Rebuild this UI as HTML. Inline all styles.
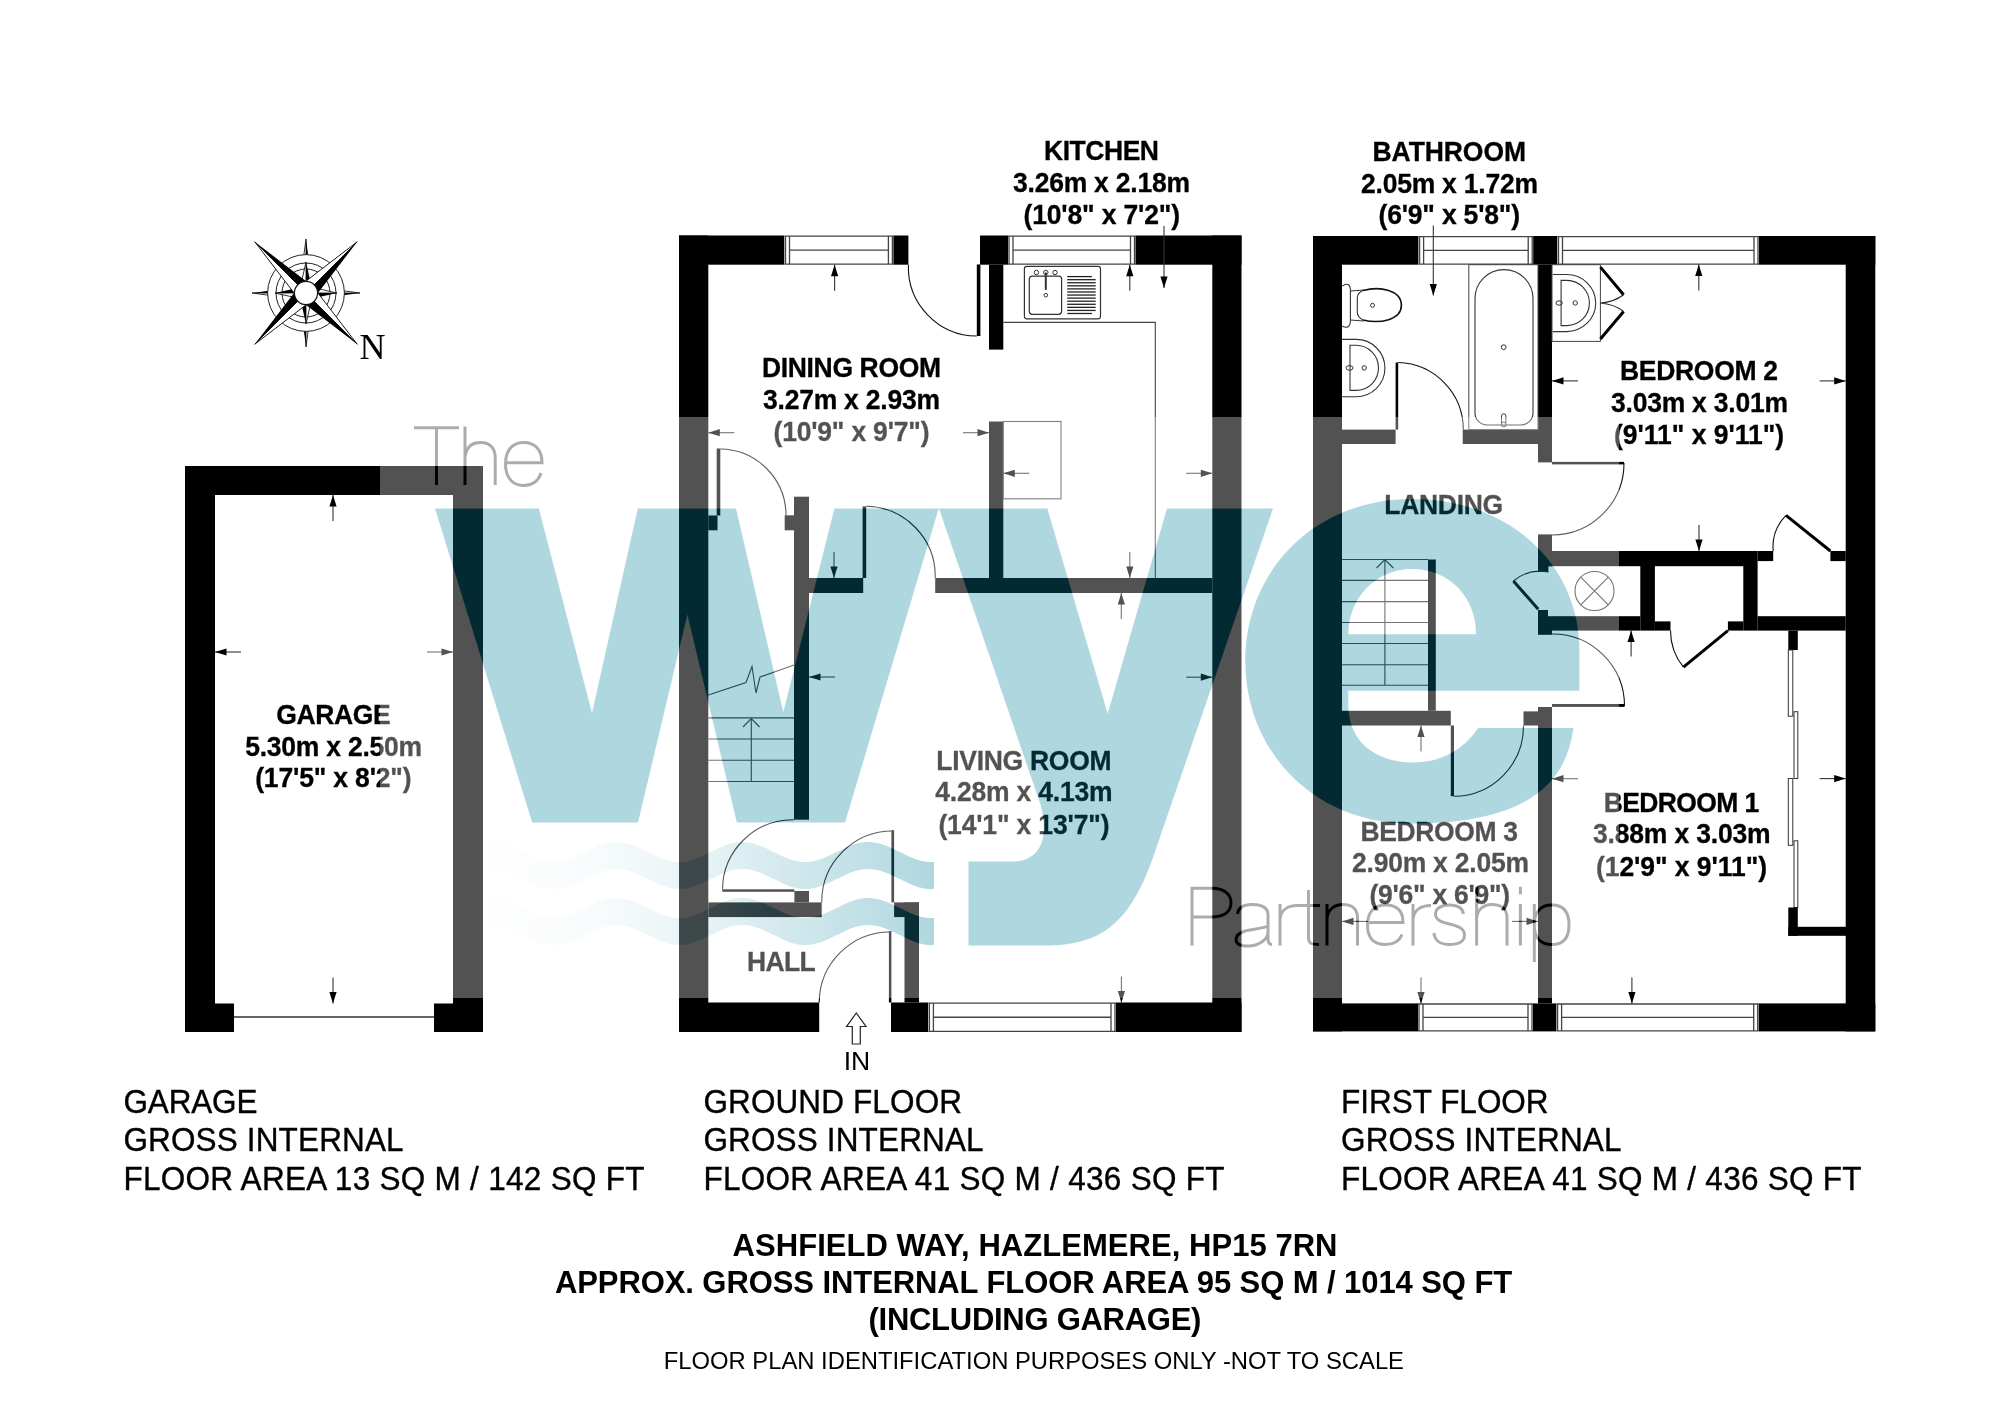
<!DOCTYPE html><html><head><meta charset="utf-8"><style>html,body{margin:0;padding:0;background:#fff;overflow:hidden}svg{display:block;will-change:transform}text{font-family:"Liberation Sans",sans-serif}</style></head><body>
<svg width="2000" height="1414" viewBox="0 0 2000 1414">
<rect width="2000" height="1414" fill="#fff"/>
<rect x="185.0" y="466.0" width="30.0" height="566.0" fill="#000"/>
<rect x="185.0" y="466.0" width="298.0" height="29.0" fill="#000"/>
<rect x="453.0" y="466.0" width="30.0" height="566.0" fill="#000"/>
<rect x="185.0" y="1003.5" width="49.0" height="28.5" fill="#000"/>
<rect x="434.0" y="1003.5" width="49.0" height="28.5" fill="#000"/>
<line x1="234" y1="1017" x2="434" y2="1017" stroke="#333" stroke-width="1.3"/>
<line x1="333" y1="495" x2="333" y2="521" stroke="#333" stroke-width="1.1"/>
<polygon points="333,495 329.4,506.5 336.6,506.5" fill="#000"/>
<line x1="333" y1="1003.5" x2="333" y2="977.5" stroke="#333" stroke-width="1.1"/>
<polygon points="333,1003.5 329.4,992.0 336.6,992.0" fill="#000"/>
<line x1="215" y1="652" x2="241" y2="652" stroke="#333" stroke-width="1.1"/>
<polygon points="215,652 226.5,648.4 226.5,655.6" fill="#000"/>
<line x1="453" y1="652" x2="427" y2="652" stroke="#333" stroke-width="1.1"/>
<polygon points="453,652 441.5,648.4 441.5,655.6" fill="#000"/>
<text transform="translate(276.20,724.1) scale(1,1.05)" x="0" y="0" font-size="26.5" font-weight="bold" textLength="114.40" lengthAdjust="spacing" fill="#000" stroke="#000" stroke-width="0.3">GARAGE</text>
<text transform="translate(245.20,755.6) scale(1,1.05)" x="0" y="0" font-size="26.5" font-weight="bold" textLength="176.99" lengthAdjust="spacing" fill="#000" stroke="#000" stroke-width="0.3">5.30m x 2.50m</text>
<text transform="translate(255.20,787.1) scale(1,1.05)" x="0" y="0" font-size="26.5" font-weight="bold" textLength="156.41" lengthAdjust="spacing" fill="#000" stroke="#000" stroke-width="0.3">(17'5&quot; x 8'2&quot;)</text>
<rect x="679.0" y="235.5" width="105.5" height="29.2" fill="#000"/>
<rect x="784.5" y="235.5" width="108.9" height="29.2" fill="#fff"/>
<path d="M784.5,236.1H893.4M784.5,264.09999999999997H893.4M789.5,250.1H888.4M785.5,235.5V264.7M789.5,235.5V264.7M892.4,235.5V264.7M888.4,235.5V264.7" stroke="#444" stroke-width="1.3" fill="none"/>
<rect x="893.4" y="235.5" width="15.0" height="29.2" fill="#000"/>
<rect x="980.0" y="235.5" width="28.0" height="29.2" fill="#000"/>
<rect x="1008.0" y="235.5" width="127.5" height="29.2" fill="#fff"/>
<path d="M1008,236.1H1135.5M1008,264.09999999999997H1135.5M1013,250.1H1130.5M1009,235.5V264.7M1013,235.5V264.7M1134.5,235.5V264.7M1130.5,235.5V264.7" stroke="#444" stroke-width="1.3" fill="none"/>
<rect x="1135.5" y="235.5" width="106.0" height="29.2" fill="#000"/>
<rect x="679.0" y="235.5" width="29.3" height="796.5" fill="#000"/>
<rect x="1212.3" y="235.5" width="29.2" height="796.5" fill="#000"/>
<rect x="679.0" y="1002.5" width="140.2" height="29.5" fill="#000"/>
<rect x="891.0" y="1002.5" width="37.4" height="29.5" fill="#000"/>
<rect x="928.4" y="1002.5" width="187.6" height="29.5" fill="#fff"/>
<path d="M928.4,1003.1H1116M928.4,1031.4H1116M933.4,1017.25H1111M929.4,1002.5V1032M933.4,1002.5V1032M1115,1002.5V1032M1111,1002.5V1032" stroke="#444" stroke-width="1.3" fill="none"/>
<rect x="1116.0" y="1002.5" width="125.5" height="29.5" fill="#000"/>
<rect x="989.0" y="264.7" width="14.3" height="84.9" fill="#000"/>
<rect x="976.8" y="264.5" width="3.6" height="71.5" fill="#000"/>
<path d="M908.4,264.7A69,69 0 0 0 976.8,336" fill="none" stroke="#111" stroke-width="1.1"/>
<rect x="989.0" y="421.5" width="14.3" height="171.5" fill="#000"/>
<rect x="935.2" y="578.0" width="277.1" height="15.0" fill="#000"/>
<rect x="809.0" y="578.0" width="54.2" height="15.0" fill="#000"/>
<rect x="794.0" y="496.7" width="15.0" height="323.0" fill="#000"/>
<rect x="784.7" y="515.3" width="9.3" height="15.0" fill="#000"/>
<rect x="708.3" y="515.5" width="9.2" height="14.8" fill="#000"/>
<rect x="716.7" y="448.5" width="3.6" height="67.0" fill="#000"/>
<path d="M720.3,449A66.5,66.5 0 0 1 786,515.5" fill="none" stroke="#111" stroke-width="1.1"/>
<rect x="862.6" y="506.3" width="3.6" height="71.7" fill="#000"/>
<path d="M866.2,506.3A70,70 0 0 1 935.2,578" fill="none" stroke="#111" stroke-width="1.1"/>
<rect x="1024.4" y="266.4" width="76.1" height="52.4" rx="2.5" fill="none" stroke="#333" stroke-width="1.2"/>
<rect x="1029.3" y="276.1" width="32.3" height="38.2" rx="3" fill="none" stroke="#333" stroke-width="1.2"/>
<circle cx="1036.4" cy="272.5" r="2.2" fill="none" stroke="#333" stroke-width="1"/>
<circle cx="1045.8" cy="272.5" r="2.2" fill="none" stroke="#333" stroke-width="1"/>
<circle cx="1055" cy="272.5" r="2.2" fill="none" stroke="#333" stroke-width="1"/>
<path d="M1045.8,272.5V289.8" stroke="#333" stroke-width="2"/>
<circle cx="1045.8" cy="295.2" r="1.8" fill="none" stroke="#333" stroke-width="1"/>
<line x1="1067.2" y1="276.60" x2="1091.9" y2="276.60" stroke="#222" stroke-width="1.3"/>
<line x1="1067.2" y1="279.68" x2="1095.7" y2="279.68" stroke="#222" stroke-width="1.3"/>
<line x1="1067.2" y1="282.75" x2="1095.7" y2="282.75" stroke="#222" stroke-width="1.3"/>
<line x1="1067.2" y1="285.83" x2="1095.7" y2="285.83" stroke="#222" stroke-width="1.3"/>
<line x1="1067.2" y1="288.90" x2="1095.7" y2="288.90" stroke="#222" stroke-width="1.3"/>
<line x1="1067.2" y1="291.98" x2="1095.7" y2="291.98" stroke="#222" stroke-width="1.3"/>
<line x1="1067.2" y1="295.05" x2="1095.7" y2="295.05" stroke="#222" stroke-width="1.3"/>
<line x1="1067.2" y1="298.12" x2="1095.7" y2="298.12" stroke="#222" stroke-width="1.3"/>
<line x1="1067.2" y1="301.20" x2="1095.7" y2="301.20" stroke="#222" stroke-width="1.3"/>
<line x1="1067.2" y1="304.28" x2="1095.7" y2="304.28" stroke="#222" stroke-width="1.3"/>
<line x1="1067.2" y1="307.35" x2="1095.7" y2="307.35" stroke="#222" stroke-width="1.3"/>
<line x1="1067.2" y1="310.43" x2="1095.7" y2="310.43" stroke="#222" stroke-width="1.3"/>
<line x1="1067.2" y1="313.50" x2="1091.9" y2="313.50" stroke="#222" stroke-width="1.3"/>
<path d="M1003.3,322.4H1155.3V578" fill="none" stroke="#444" stroke-width="1.1"/>
<rect x="1003.3" y="421.5" width="57.7" height="77.3" fill="none" stroke="#444" stroke-width="1.1"/>
<line x1="834.6" y1="264.7" x2="834.6" y2="290.7" stroke="#333" stroke-width="1.1"/>
<polygon points="834.6,264.7 831.0,276.2 838.2,276.2" fill="#000"/>
<line x1="1129.8" y1="264.7" x2="1129.8" y2="290.7" stroke="#333" stroke-width="1.1"/>
<polygon points="1129.8,264.7 1126.2,276.2 1133.3999999999999,276.2" fill="#000"/>
<line x1="1164" y1="226" x2="1164" y2="288" stroke="#333" stroke-width="1.1"/>
<polygon points="1164,288 1160.4,276.5 1167.6,276.5" fill="#000"/>
<line x1="708.3" y1="432.7" x2="734.3" y2="432.7" stroke="#333" stroke-width="1.1"/>
<polygon points="708.3,432.7 719.8,429.09999999999997 719.8,436.3" fill="#000"/>
<line x1="989" y1="432.7" x2="963" y2="432.7" stroke="#333" stroke-width="1.1"/>
<polygon points="989,432.7 977.5,429.09999999999997 977.5,436.3" fill="#000"/>
<line x1="1003.3" y1="473.3" x2="1029.3" y2="473.3" stroke="#333" stroke-width="1.1"/>
<polygon points="1003.3,473.3 1014.8,469.7 1014.8,476.90000000000003" fill="#000"/>
<line x1="1212.3" y1="473.3" x2="1186.3" y2="473.3" stroke="#333" stroke-width="1.1"/>
<polygon points="1212.3,473.3 1200.8,469.7 1200.8,476.90000000000003" fill="#000"/>
<line x1="1129.8" y1="578" x2="1129.8" y2="552" stroke="#333" stroke-width="1.1"/>
<polygon points="1129.8,578 1126.2,566.5 1133.3999999999999,566.5" fill="#000"/>
<line x1="1121.3" y1="593" x2="1121.3" y2="619" stroke="#333" stroke-width="1.1"/>
<polygon points="1121.3,593 1117.7,604.5 1124.8999999999999,604.5" fill="#000"/>
<line x1="834" y1="578" x2="834" y2="552" stroke="#333" stroke-width="1.1"/>
<polygon points="834,578 830.4,566.5 837.6,566.5" fill="#000"/>
<line x1="809" y1="677" x2="835" y2="677" stroke="#333" stroke-width="1.1"/>
<polygon points="809,677 820.5,673.4 820.5,680.6" fill="#000"/>
<line x1="1212.3" y1="677.2" x2="1186.3" y2="677.2" stroke="#333" stroke-width="1.1"/>
<polygon points="1212.3,677.2 1200.8,673.6 1200.8,680.8000000000001" fill="#000"/>
<line x1="1121.4" y1="1002.5" x2="1121.4" y2="976.5" stroke="#333" stroke-width="1.1"/>
<polygon points="1121.4,1002.5 1117.8000000000002,991.0 1125.0,991.0" fill="#000"/>
<line x1="708.3" y1="717.9" x2="794" y2="717.9" stroke="#333" stroke-width="1.1"/>
<line x1="708.3" y1="739" x2="794" y2="739" stroke="#333" stroke-width="1.1"/>
<line x1="708.3" y1="760.3" x2="794" y2="760.3" stroke="#333" stroke-width="1.1"/>
<line x1="708.3" y1="781.5" x2="794" y2="781.5" stroke="#333" stroke-width="1.1"/>
<path d="M751.3,781.5V718.6M743,727L751.3,718.6L759.6,727" fill="none" stroke="#333" stroke-width="1.1"/>
<path d="M708.3,695L746,682.5L752,666.5L756,693L760,677L794,665" fill="none" stroke="#333" stroke-width="1.1"/>
<rect x="708.3" y="902.4" width="113.4" height="14.7" fill="#000"/>
<rect x="794.4" y="891.0" width="14.6" height="11.4" fill="#000"/>
<rect x="722.3" y="889.3" width="72.1" height="2.5" fill="#000"/>
<path d="M794,819.7A70.5,70.5 0 0 0 722.5,889.5" fill="none" stroke="#111" stroke-width="1.1"/>
<rect x="891.4" y="830.2" width="2.7" height="72.2" fill="#000"/>
<path d="M821.7,902.4A71,71 0 0 1 892.8,831" fill="none" stroke="#111" stroke-width="1.1"/>
<rect x="894.1" y="902.4" width="24.9" height="14.7" fill="#000"/>
<rect x="904.5" y="902.4" width="14.5" height="100.1" fill="#000"/>
<rect x="888.9" y="931.0" width="2.5" height="71.5" fill="#000"/>
<path d="M819.2,1002.5A71,71 0 0 1 890,932" fill="none" stroke="#111" stroke-width="1.1"/>
<path d="M856.3,1013L866,1026.5H860.3V1044H852.3V1026.5H846.6Z" fill="#fff" stroke="#222" stroke-width="1.2"/>
<text x="857" y="1069.6" font-size="26.5" text-anchor="middle" fill="#000">IN</text>
<text transform="translate(747.00,971.4) scale(1,1.05)" x="0" y="0" font-size="26.5" font-weight="bold" textLength="68.70" lengthAdjust="spacing" fill="#000" stroke="#000" stroke-width="0.3">HALL</text>
<text transform="translate(762.00,376.8) scale(1,1.05)" x="0" y="0" font-size="26.5" font-weight="bold" textLength="178.99" lengthAdjust="spacing" fill="#000" stroke="#000" stroke-width="0.3">DINING ROOM</text>
<text transform="translate(763.00,408.5) scale(1,1.05)" x="0" y="0" font-size="26.5" font-weight="bold" textLength="176.99" lengthAdjust="spacing" fill="#000" stroke="#000" stroke-width="0.3">3.27m x 2.93m</text>
<text transform="translate(773.50,440.5) scale(1,1.05)" x="0" y="0" font-size="26.5" font-weight="bold" textLength="156.01" lengthAdjust="spacing" fill="#000" stroke="#000" stroke-width="0.3">(10'9&quot; x 9'7&quot;)</text>
<text transform="translate(1044.00,159.8) scale(1,1.05)" x="0" y="0" font-size="26.5" font-weight="bold" textLength="115.01" lengthAdjust="spacing" fill="#000" stroke="#000" stroke-width="0.3">KITCHEN</text>
<text transform="translate(1013.00,191.5) scale(1,1.05)" x="0" y="0" font-size="26.5" font-weight="bold" textLength="176.99" lengthAdjust="spacing" fill="#000" stroke="#000" stroke-width="0.3">3.26m x 2.18m</text>
<text transform="translate(1023.50,224) scale(1,1.05)" x="0" y="0" font-size="26.5" font-weight="bold" textLength="156.51" lengthAdjust="spacing" fill="#000" stroke="#000" stroke-width="0.3">(10'8&quot; x 7'2&quot;)</text>
<text transform="translate(936.30,769.9) scale(1,1.05)" x="0" y="0" font-size="26.5" font-weight="bold" textLength="175.30" lengthAdjust="spacing" fill="#000" stroke="#000" stroke-width="0.3">LIVING ROOM</text>
<text transform="translate(935.20,801.4) scale(1,1.05)" x="0" y="0" font-size="26.5" font-weight="bold" textLength="177.49" lengthAdjust="spacing" fill="#000" stroke="#000" stroke-width="0.3">4.28m x 4.13m</text>
<text transform="translate(938.40,833.5) scale(1,1.05)" x="0" y="0" font-size="26.5" font-weight="bold" textLength="171.09" lengthAdjust="spacing" fill="#000" stroke="#000" stroke-width="0.3">(14'1&quot; x 13'7&quot;)</text>
<rect x="1313.0" y="236.0" width="105.6" height="28.7" fill="#000"/>
<rect x="1418.6" y="236.0" width="114.6" height="28.7" fill="#fff"/>
<path d="M1418.6,236.6H1533.2M1418.6,264.09999999999997H1533.2M1423.6,250.35H1528.2M1419.6,236V264.7M1423.6,236V264.7M1532.2,236V264.7M1528.2,236V264.7" stroke="#444" stroke-width="1.3" fill="none"/>
<rect x="1533.2" y="236.0" width="24.3" height="28.7" fill="#000"/>
<rect x="1557.5" y="236.0" width="201.5" height="28.7" fill="#fff"/>
<path d="M1557.5,236.6H1759M1557.5,264.09999999999997H1759M1562.5,250.35H1754M1558.5,236V264.7M1562.5,236V264.7M1758,236V264.7M1754,236V264.7" stroke="#444" stroke-width="1.3" fill="none"/>
<rect x="1759.0" y="236.0" width="116.3" height="28.7" fill="#000"/>
<rect x="1313.0" y="236.0" width="29.0" height="795.4" fill="#000"/>
<rect x="1845.7" y="236.0" width="29.6" height="795.4" fill="#000"/>
<rect x="1313.0" y="1003.4" width="105.0" height="28.0" fill="#000"/>
<rect x="1418.0" y="1003.4" width="115.0" height="28.0" fill="#fff"/>
<path d="M1418,1004.0H1533M1418,1030.8000000000002H1533M1423,1017.4000000000001H1528M1419,1003.4V1031.4M1423,1003.4V1031.4M1532,1003.4V1031.4M1528,1003.4V1031.4" stroke="#444" stroke-width="1.3" fill="none"/>
<rect x="1533.0" y="1003.4" width="23.6" height="28.0" fill="#000"/>
<rect x="1556.6" y="1003.4" width="202.1" height="28.0" fill="#fff"/>
<path d="M1556.6,1004.0H1758.7M1556.6,1030.8000000000002H1758.7M1561.6,1017.4000000000001H1753.7M1557.6,1003.4V1031.4M1561.6,1003.4V1031.4M1757.7,1003.4V1031.4M1753.7,1003.4V1031.4" stroke="#444" stroke-width="1.3" fill="none"/>
<rect x="1758.7" y="1003.4" width="116.6" height="28.0" fill="#000"/>
<rect x="1538.0" y="264.7" width="14.0" height="197.7" fill="#000"/>
<rect x="1342.0" y="429.6" width="53.6" height="14.4" fill="#000"/>
<rect x="1462.7" y="429.6" width="75.3" height="14.4" fill="#000"/>
<rect x="1395.6" y="362.5" width="2.6" height="67.1" fill="#000"/>
<path d="M1398.2,362.5A67,67 0 0 1 1463.3,429.6" fill="none" stroke="#111" stroke-width="1.1"/>
<rect x="1468.8" y="264.7" width="69.2" height="164.9" fill="none" stroke="#444" stroke-width="1"/>
<path d="M1475,298.6A29,29 0 0 1 1533,298.6V413A12,12 0 0 1 1521,425H1487A12,12 0 0 1 1475,413Z" fill="none" stroke="#333" stroke-width="1.1"/>
<circle cx="1503.7" cy="347.2" r="2.4" fill="none" stroke="#333" stroke-width="1"/>
<path d="M1501.5,423V416A2.2,2.2 0 0 1 1505.9,416V423" fill="none" stroke="#333" stroke-width="1"/>
<circle cx="1503.7" cy="424.5" r="2.4" fill="none" stroke="#333" stroke-width="1"/>
<path d="M1342,286Q1350,281 1350.4,290V321Q1350,330 1342,326" fill="none" stroke="#333" stroke-width="1.1"/>
<path d="M1350.4,291L1363.7,290M1350.4,320L1363.7,321" fill="none" stroke="#333" stroke-width="1"/>
<path d="M1363,290.5C1380,286 1401.4,290 1401.4,305.3C1401.4,320 1380,324 1363,320" fill="none" stroke="#111" stroke-width="1.6"/>
<path d="M1363,290.5Q1357.3,293 1357.3,298V312Q1357.3,317 1363,320" fill="none" stroke="#333" stroke-width="1.1"/>
<circle cx="1372.5" cy="305.3" r="2" fill="none" stroke="#333" stroke-width="1"/>
<path d="M1342,339.4H1356A28.7,28.7 0 0 1 1384.9,368.1A28.7,28.7 0 0 1 1356,396.8H1342" fill="none" stroke="#333" stroke-width="1.1"/>
<path d="M1350,345.3H1356A22.5,22.5 0 0 1 1378.5,367.8A22.5,22.5 0 0 1 1356,390.4H1350Z" fill="none" stroke="#333" stroke-width="1.1"/>
<ellipse cx="1349.5" cy="367.9" rx="3.5" ry="2.3" fill="none" stroke="#333" stroke-width="1"/>
<circle cx="1364.2" cy="367.9" r="2.2" fill="none" stroke="#333" stroke-width="1"/>
<rect x="1552" y="264.7" width="48.4" height="76.7" fill="none" stroke="#444" stroke-width="1"/>
<path d="M1552.7,274.5H1566.5A29.2,28.6 0 0 1 1595.7,303A29.2,28.6 0 0 1 1566.5,331.6H1552.7" fill="none" stroke="#333" stroke-width="1.1"/>
<path d="M1561.1,280.4H1567A22.5,22.6 0 0 1 1589.4,303A22.5,22.6 0 0 1 1567,325.6H1561.1Z" fill="none" stroke="#333" stroke-width="1.1"/>
<ellipse cx="1559.1" cy="303" rx="3.2" ry="2.2" fill="none" stroke="#333" stroke-width="1"/>
<circle cx="1575.2" cy="303" r="2.2" fill="none" stroke="#333" stroke-width="1"/>
<path d="M1600.4,267.1L1623.6,294.7M1600.4,339L1623.6,311.5" stroke="#000" stroke-width="3"/>
<path d="M1623.6,294.7Q1614,302 1600.4,303Q1614,304 1623.6,311.5" fill="none" stroke="#222" stroke-width="1.1"/>
<rect x="1552.0" y="461.9" width="72.0" height="2.5" fill="#000"/>
<path d="M1624,463A72,72 0 0 1 1552,535" fill="none" stroke="#111" stroke-width="1.1"/>
<rect x="1538.0" y="534.4" width="14.0" height="31.8" fill="#000"/>
<rect x="1538.0" y="551.0" width="219.6" height="15.2" fill="#000"/>
<rect x="1757.6" y="551.0" width="15.6" height="10.1" fill="#000"/>
<rect x="1830.4" y="551.0" width="15.3" height="10.1" fill="#000"/>
<path d="M1786,515.3L1830.4,551" stroke="#000" stroke-width="3"/>
<path d="M1786,515.3A45,45 0 0 0 1773.2,551" fill="none" stroke="#111" stroke-width="1.1"/>
<rect x="1640.3" y="566.0" width="14.6" height="64.6" fill="#000"/>
<rect x="1743.3" y="566.0" width="14.3" height="64.6" fill="#000"/>
<rect x="1548.0" y="616.2" width="92.3" height="14.4" fill="#000"/>
<rect x="1654.9" y="621.4" width="15.6" height="9.2" fill="#000"/>
<rect x="1727.9" y="621.4" width="15.4" height="9.2" fill="#000"/>
<rect x="1757.6" y="616.2" width="88.1" height="14.4" fill="#000"/>
<path d="M1727.9,630.6L1683.4,667.2" stroke="#000" stroke-width="3"/>
<path d="M1670.5,630.6A58,58 0 0 0 1683.4,667.2" fill="none" stroke="#111" stroke-width="1.1"/>
<rect x="1538.0" y="566.0" width="10.4" height="6.0" fill="#000"/>
<path d="M1548.4,572A42,42 0 0 0 1513.4,581" fill="none" stroke="#111" stroke-width="1.1"/>
<path d="M1513.4,581L1538.2,609.3" stroke="#000" stroke-width="3"/>
<rect x="1538.0" y="610.0" width="10.0" height="7.0" fill="#000"/>
<rect x="1538.0" y="617.0" width="14.0" height="17.8" fill="#000"/>
<circle cx="1594.5" cy="591" r="19.5" fill="none" stroke="#333" stroke-width="1.1"/>
<path d="M1580.7,577.2L1608.3,604.8M1608.3,577.2L1580.7,604.8" stroke="#333" stroke-width="1.1"/>
<line x1="1342" y1="559.5" x2="1428" y2="559.5" stroke="#333" stroke-width="1.1"/>
<line x1="1342" y1="580.4" x2="1428" y2="580.4" stroke="#333" stroke-width="1.1"/>
<line x1="1342" y1="601.6" x2="1428" y2="601.6" stroke="#333" stroke-width="1.1"/>
<line x1="1342" y1="622.5" x2="1428" y2="622.5" stroke="#333" stroke-width="1.1"/>
<line x1="1342" y1="643.5" x2="1428" y2="643.5" stroke="#333" stroke-width="1.1"/>
<line x1="1342" y1="664.7" x2="1428" y2="664.7" stroke="#333" stroke-width="1.1"/>
<line x1="1342" y1="685.3" x2="1428" y2="685.3" stroke="#333" stroke-width="1.1"/>
<rect x="1428.0" y="559.5" width="7.8" height="151.3" fill="#000"/>
<path d="M1384.9,685.3V559.5M1376.5,568L1384.9,559.5L1393.3,568" fill="none" stroke="#333" stroke-width="1.1"/>
<rect x="1342.0" y="710.8" width="108.8" height="14.7" fill="#000"/>
<rect x="1450.8" y="725.5" width="3.2" height="70.7" fill="#000"/>
<path d="M1454,796.2A70,70 0 0 0 1523.5,725.5" fill="none" stroke="#111" stroke-width="1.1"/>
<rect x="1523.5" y="711.4" width="28.5" height="14.1" fill="#000"/>
<rect x="1538.0" y="707.0" width="14.0" height="296.4" fill="#000"/>
<rect x="1552.0" y="704.0" width="72.5" height="2.9" fill="#000"/>
<path d="M1552,634A72,72 0 0 1 1624.5,706" fill="none" stroke="#111" stroke-width="1.1"/>
<rect x="1788.3" y="630.6" width="9.5" height="19.4" fill="#000"/>
<rect x="1788.3" y="650" width="4.5" height="66.2" fill="#fff" stroke="#333" stroke-width="1"/>
<rect x="1794" y="711.7" width="3.8" height="66.8" fill="#fff" stroke="#333" stroke-width="1"/>
<rect x="1788.3" y="778.5" width="4.5" height="66.8" fill="#fff" stroke="#333" stroke-width="1"/>
<rect x="1794" y="840.8" width="3.8" height="66.7" fill="#fff" stroke="#333" stroke-width="1"/>
<rect x="1788.3" y="907.5" width="9.5" height="28.3" fill="#000"/>
<rect x="1788.3" y="926.8" width="57.7" height="9.0" fill="#000"/>
<line x1="1433.3" y1="295.4" x2="1433.3" y2="225.39999999999998" stroke="#333" stroke-width="1.1"/>
<polygon points="1433.3,295.4 1429.7,283.9 1436.8999999999999,283.9" fill="#000"/>
<line x1="1698.8" y1="264.5" x2="1698.8" y2="290.5" stroke="#333" stroke-width="1.1"/>
<polygon points="1698.8,264.5 1695.2,276.0 1702.3999999999999,276.0" fill="#000"/>
<line x1="1552" y1="380.9" x2="1578" y2="380.9" stroke="#333" stroke-width="1.1"/>
<polygon points="1552,380.9 1563.5,377.29999999999995 1563.5,384.5" fill="#000"/>
<line x1="1845.7" y1="380.9" x2="1819.7" y2="380.9" stroke="#333" stroke-width="1.1"/>
<polygon points="1845.7,380.9 1834.2,377.29999999999995 1834.2,384.5" fill="#000"/>
<line x1="1699" y1="551" x2="1699" y2="525" stroke="#333" stroke-width="1.1"/>
<polygon points="1699,551 1695.4,539.5 1702.6,539.5" fill="#000"/>
<line x1="1631.1" y1="630.6" x2="1631.1" y2="656.6" stroke="#333" stroke-width="1.1"/>
<polygon points="1631.1,630.6 1627.5,642.1 1634.6999999999998,642.1" fill="#000"/>
<line x1="1421" y1="725.5" x2="1421" y2="751.5" stroke="#333" stroke-width="1.1"/>
<polygon points="1421,725.5 1417.4,737.0 1424.6,737.0" fill="#000"/>
<line x1="1552" y1="778.7" x2="1578" y2="778.7" stroke="#333" stroke-width="1.1"/>
<polygon points="1552,778.7 1563.5,775.1 1563.5,782.3000000000001" fill="#000"/>
<line x1="1845.7" y1="778.6" x2="1819.7" y2="778.6" stroke="#333" stroke-width="1.1"/>
<polygon points="1845.7,778.6 1834.2,775.0 1834.2,782.2" fill="#000"/>
<line x1="1342" y1="921.4" x2="1368" y2="921.4" stroke="#333" stroke-width="1.1"/>
<polygon points="1342,921.4 1353.5,917.8 1353.5,925.0" fill="#000"/>
<line x1="1538" y1="921.4" x2="1512" y2="921.4" stroke="#333" stroke-width="1.1"/>
<polygon points="1538,921.4 1526.5,917.8 1526.5,925.0" fill="#000"/>
<line x1="1421" y1="1003.4" x2="1421" y2="977.4" stroke="#333" stroke-width="1.1"/>
<polygon points="1421,1003.4 1417.4,991.9 1424.6,991.9" fill="#000"/>
<line x1="1631.9" y1="1003.4" x2="1631.9" y2="977.4" stroke="#333" stroke-width="1.1"/>
<polygon points="1631.9,1003.4 1628.3000000000002,991.9 1635.5,991.9" fill="#000"/>
<text transform="translate(1372.50,160.8) scale(1,1.05)" x="0" y="0" font-size="26.5" font-weight="bold" textLength="153.50" lengthAdjust="spacing" fill="#000" stroke="#000" stroke-width="0.3">BATHROOM</text>
<text transform="translate(1361.00,192.5) scale(1,1.05)" x="0" y="0" font-size="26.5" font-weight="bold" textLength="176.99" lengthAdjust="spacing" fill="#000" stroke="#000" stroke-width="0.3">2.05m x 1.72m</text>
<text transform="translate(1378.50,224) scale(1,1.05)" x="0" y="0" font-size="26.5" font-weight="bold" textLength="141.51" lengthAdjust="spacing" fill="#000" stroke="#000" stroke-width="0.3">(6'9&quot; x 5'8&quot;)</text>
<text transform="translate(1620.00,379.8) scale(1,1.05)" x="0" y="0" font-size="26.5" font-weight="bold" textLength="158.00" lengthAdjust="spacing" fill="#000" stroke="#000" stroke-width="0.3">BEDROOM 2</text>
<text transform="translate(1611.00,411.5) scale(1,1.05)" x="0" y="0" font-size="26.5" font-weight="bold" textLength="176.99" lengthAdjust="spacing" fill="#000" stroke="#000" stroke-width="0.3">3.03m x 3.01m</text>
<text transform="translate(1614.00,443.5) scale(1,1.05)" x="0" y="0" font-size="26.5" font-weight="bold" textLength="170.01" lengthAdjust="spacing" fill="#000" stroke="#000" stroke-width="0.3">(9'11&quot; x 9'11&quot;)</text>
<text transform="translate(1384.30,514.2) scale(1,1.05)" x="0" y="0" font-size="26.5" font-weight="bold" textLength="118.80" lengthAdjust="spacing" fill="#000" stroke="#000" stroke-width="0.3">LANDING</text>
<text transform="translate(1360.50,840.5) scale(1,1.05)" x="0" y="0" font-size="26.5" font-weight="bold" textLength="157.50" lengthAdjust="spacing" fill="#000" stroke="#000" stroke-width="0.3">BEDROOM 3</text>
<text transform="translate(1352.00,872) scale(1,1.05)" x="0" y="0" font-size="26.5" font-weight="bold" textLength="176.99" lengthAdjust="spacing" fill="#000" stroke="#000" stroke-width="0.3">2.90m x 2.05m</text>
<text transform="translate(1369.50,903.5) scale(1,1.05)" x="0" y="0" font-size="26.5" font-weight="bold" textLength="140.51" lengthAdjust="spacing" fill="#000" stroke="#000" stroke-width="0.3">(9'6&quot; x 6'9&quot;)</text>
<text transform="translate(1603.80,811.6) scale(1,1.05)" x="0" y="0" font-size="26.5" font-weight="bold" textLength="155.40" lengthAdjust="spacing" fill="#000" stroke="#000" stroke-width="0.3">BEDROOM 1</text>
<text transform="translate(1593.00,843.4) scale(1,1.05)" x="0" y="0" font-size="26.5" font-weight="bold" textLength="177.59" lengthAdjust="spacing" fill="#000" stroke="#000" stroke-width="0.3">3.88m x 3.03m</text>
<text transform="translate(1596.00,875.8) scale(1,1.05)" x="0" y="0" font-size="26.5" font-weight="bold" textLength="171.01" lengthAdjust="spacing" fill="#000" stroke="#000" stroke-width="0.3">(12'9&quot; x 9'11&quot;)</text>
<g transform="translate(306,293)">
<polygon points="0.00,-30.00 3.20,-30.00 0.00,-54.00" fill="#000"/>
<polygon points="0.00,-30.00 -3.20,-30.00 0.00,-54.00" fill="#fff" stroke="#000" stroke-width="0.8" stroke-linejoin="round"/>
<polygon points="30.00,0.00 30.00,3.20 54.00,0.00" fill="#000"/>
<polygon points="30.00,0.00 30.00,-3.20 54.00,0.00" fill="#fff" stroke="#000" stroke-width="0.8" stroke-linejoin="round"/>
<polygon points="0.00,30.00 -3.20,30.00 0.00,54.00" fill="#000"/>
<polygon points="0.00,30.00 3.20,30.00 0.00,54.00" fill="#fff" stroke="#000" stroke-width="0.8" stroke-linejoin="round"/>
<polygon points="-30.00,0.00 -30.00,-3.20 -54.00,0.00" fill="#000"/>
<polygon points="-30.00,0.00 -30.00,3.20 -54.00,0.00" fill="#fff" stroke="#000" stroke-width="0.8" stroke-linejoin="round"/>
<circle r="38.4" fill="#fff" stroke="#222" stroke-width="1"/>
<circle r="30" fill="#fff" stroke="#222" stroke-width="1"/>
<circle r="24" fill="none" stroke="#222" stroke-width="1"/>
<polygon points="0.00,-0.00 7.00,0.00 0.00,-31.00" fill="#000"/>
<polygon points="0.00,-0.00 -7.00,-0.00 0.00,-31.00" fill="#fff" stroke="#000" stroke-width="0.8" stroke-linejoin="round"/>
<polygon points="0.00,0.00 0.00,7.00 31.00,0.00" fill="#000"/>
<polygon points="0.00,0.00 0.00,-7.00 31.00,0.00" fill="#fff" stroke="#000" stroke-width="0.8" stroke-linejoin="round"/>
<polygon points="0.00,0.00 -7.00,0.00 0.00,31.00" fill="#000"/>
<polygon points="0.00,0.00 7.00,-0.00 0.00,31.00" fill="#fff" stroke="#000" stroke-width="0.8" stroke-linejoin="round"/>
<polygon points="-0.00,0.00 -0.00,-7.00 -31.00,0.00" fill="#000"/>
<polygon points="-0.00,0.00 0.00,7.00 -31.00,0.00" fill="#fff" stroke="#000" stroke-width="0.8" stroke-linejoin="round"/>
<polygon points="0.00,-0.00 6.72,6.72 51.27,-51.27" fill="#000"/>
<polygon points="0.00,-0.00 -6.72,-6.72 51.27,-51.27" fill="#fff" stroke="#000" stroke-width="0.9" stroke-linejoin="round"/>
<polygon points="0.00,0.00 -6.72,6.72 51.27,51.27" fill="#000"/>
<polygon points="0.00,0.00 6.72,-6.72 51.27,51.27" fill="#fff" stroke="#000" stroke-width="0.9" stroke-linejoin="round"/>
<polygon points="-0.00,0.00 -6.72,-6.72 -51.27,51.27" fill="#000"/>
<polygon points="-0.00,0.00 6.72,6.72 -51.27,51.27" fill="#fff" stroke="#000" stroke-width="0.9" stroke-linejoin="round"/>
<polygon points="-0.00,-0.00 6.72,-6.72 -51.27,-51.27" fill="#000"/>
<polygon points="-0.00,-0.00 -6.72,6.72 -51.27,-51.27" fill="#fff" stroke="#000" stroke-width="0.9" stroke-linejoin="round"/>
<circle r="11.6" fill="#fff" stroke="#111" stroke-width="1.2"/>
</g>
<text x="372.5" y="359.2" font-family="Liberation Serif" font-size="36" text-anchor="middle" fill="#000" style="font-family:'Liberation Serif',serif">N</text>
<text transform="translate(123.40,1113) scale(1,1.06)" x="0" y="0" font-size="31.5" font-weight="normal" textLength="134.09" lengthAdjust="spacing" fill="#000" stroke="#000" stroke-width="0.35">GARAGE</text>
<text transform="translate(123.40,1151.4) scale(1,1.06)" x="0" y="0" font-size="31.5" font-weight="normal" textLength="280.20" lengthAdjust="spacing" fill="#000" stroke="#000" stroke-width="0.35">GROSS INTERNAL</text>
<text transform="translate(123.40,1190.4) scale(1,1.06)" x="0" y="0" font-size="31.5" font-weight="normal" textLength="521.11" lengthAdjust="spacing" fill="#000" stroke="#000" stroke-width="0.35">FLOOR AREA 13 SQ M / 142 SQ FT</text>
<text transform="translate(703.40,1113) scale(1,1.06)" x="0" y="0" font-size="31.5" font-weight="normal" textLength="258.60" lengthAdjust="spacing" fill="#000" stroke="#000" stroke-width="0.35">GROUND FLOOR</text>
<text transform="translate(703.40,1151.4) scale(1,1.06)" x="0" y="0" font-size="31.5" font-weight="normal" textLength="280.20" lengthAdjust="spacing" fill="#000" stroke="#000" stroke-width="0.35">GROSS INTERNAL</text>
<text transform="translate(703.40,1190.4) scale(1,1.06)" x="0" y="0" font-size="31.5" font-weight="normal" textLength="521.11" lengthAdjust="spacing" fill="#000" stroke="#000" stroke-width="0.35">FLOOR AREA 41 SQ M / 436 SQ FT</text>
<text transform="translate(1341.00,1113) scale(1,1.06)" x="0" y="0" font-size="31.5" font-weight="normal" textLength="207.61" lengthAdjust="spacing" fill="#000" stroke="#000" stroke-width="0.35">FIRST FLOOR</text>
<text transform="translate(1341.00,1151.4) scale(1,1.06)" x="0" y="0" font-size="31.5" font-weight="normal" textLength="280.50" lengthAdjust="spacing" fill="#000" stroke="#000" stroke-width="0.35">GROSS INTERNAL</text>
<text transform="translate(1341.00,1190.4) scale(1,1.06)" x="0" y="0" font-size="31.5" font-weight="normal" textLength="520.51" lengthAdjust="spacing" fill="#000" stroke="#000" stroke-width="0.35">FLOOR AREA 41 SQ M / 436 SQ FT</text>
<text transform="translate(732.60,1256) scale(1,1.0)" x="0" y="0" font-size="31" font-weight="bold" textLength="604.91" lengthAdjust="spacing" fill="#000">ASHFIELD WAY, HAZLEMERE, HP15 7RN</text>
<text transform="translate(554.90,1293) scale(1,1.0)" x="0" y="0" font-size="31" font-weight="bold" textLength="957.30" lengthAdjust="spacing" fill="#000">APPROX. GROSS INTERNAL FLOOR AREA 95 SQ M / 1014 SQ FT</text>
<text transform="translate(868.50,1330) scale(1,1.0)" x="0" y="0" font-size="31" font-weight="bold" textLength="332.91" lengthAdjust="spacing" fill="#000">(INCLUDING GARAGE)</text>
<text transform="translate(663.80,1368.5) scale(1,1.0)" x="0" y="0" font-size="23.8" font-weight="normal" textLength="740.20" lengthAdjust="spacing" fill="#000">FLOOR PLAN IDENTIFICATION PURPOSES ONLY -NOT TO SCALE</text>
<g opacity="0.32">
<defs><linearGradient id="wg" gradientUnits="userSpaceOnUse" x1="480" y1="0" x2="935" y2="0"><stop offset="0" stop-color="#0a84a0" stop-opacity="0"/><stop offset="0.25" stop-color="#0a84a0" stop-opacity="0.08"/><stop offset="0.5" stop-color="#0a84a0" stop-opacity="0.3"/><stop offset="0.75" stop-color="#0a84a0" stop-opacity="0.65"/><stop offset="1" stop-color="#0a84a0" stop-opacity="1"/></linearGradient></defs>
<rect x="380" y="417" width="1239" height="581" fill="#fff"/>
<polygon fill="#0a84a0" points="435,508.6 538.8,508.6 592,712.9 637.8,508.6 736,508.6 783.3,712.2 834.4,508.6 938.7,508.6 845,822.6 736.9,822.6 687.4,614.5 638,822.6 532.2,822.6"/>
<path fill="#0a84a0" d="M939,508.6H1047.3L1107.7,713.8L1167,508.6H1273L1151.5,861.8C1128,925 1100,945.5 1045,945.5H968.5V861.6H1012C1040,861.6 1049,840 1041,806Z"/>
<path fill="#0a84a0" d="M1412,499C1510,499 1579.4,565 1579.4,650L1579.4,690.7L1573.4,728C1565,795 1510,823.5 1410,823.5C1315,823.5 1245.3,752 1245.3,661C1245.3,570 1315,499 1412,499Z"/>
<path fill="#fff" d="M1348.3,634.2C1348.3,597 1377,569.1 1412,569.1C1449,569.1 1476,597 1476,634.2Z"/>
<path fill="#fff" d="M1348.3,690.7V705C1348.3,742 1376,762.5 1413,762.5C1443,762.5 1465,748 1478,728H1600V690.7Z"/>
<path fill="url(#wg)" d="M490.0,842.0 L492.0,842.0 L494.0,842.2 L496.0,842.4 L498.0,842.7 L500.0,843.2 L502.0,843.7 L504.0,844.3 L506.0,844.9 L508.0,845.7 L510.0,846.5 L512.0,847.3 L514.0,848.3 L516.0,849.2 L518.0,850.2 L520.0,851.2 L522.0,852.1 L524.0,853.1 L526.0,854.1 L528.0,855.1 L530.0,856.0 L532.0,856.9 L534.0,857.8 L536.0,858.5 L538.0,859.3 L540.0,859.9 L542.0,860.5 L544.0,861.0 L546.0,861.4 L548.0,861.7 L550.0,861.9 L552.0,862.0 L554.0,862.0 L556.0,861.9 L558.0,861.7 L560.0,861.4 L562.0,861.1 L564.0,860.6 L566.0,860.0 L568.0,859.4 L570.0,858.7 L572.0,857.9 L574.0,857.1 L576.0,856.2 L578.0,855.3 L580.0,854.3 L582.0,853.3 L584.0,852.3 L586.0,851.4 L588.0,850.4 L590.0,849.4 L592.0,848.4 L594.0,847.5 L596.0,846.7 L598.0,845.8 L600.0,845.1 L602.0,844.4 L604.0,843.8 L606.0,843.3 L608.0,842.8 L610.0,842.5 L612.0,842.2 L614.0,842.1 L616.0,842.0 L618.0,842.0 L620.0,842.2 L622.0,842.4 L624.0,842.7 L626.0,843.2 L628.0,843.7 L630.0,844.3 L632.0,844.9 L634.0,845.7 L636.0,846.5 L638.0,847.3 L640.0,848.3 L642.0,849.2 L644.0,850.2 L646.0,851.2 L648.0,852.1 L650.0,853.1 L652.0,854.1 L654.0,855.1 L656.0,856.0 L658.0,856.9 L660.0,857.8 L662.0,858.5 L664.0,859.3 L666.0,859.9 L668.0,860.5 L670.0,861.0 L672.0,861.4 L674.0,861.7 L676.0,861.9 L678.0,862.0 L680.0,862.0 L682.0,861.9 L684.0,861.7 L686.0,861.4 L688.0,861.1 L690.0,860.6 L692.0,860.0 L694.0,859.4 L696.0,858.7 L698.0,857.9 L700.0,857.1 L702.0,856.2 L704.0,855.3 L706.0,854.3 L708.0,853.3 L710.0,852.3 L712.0,851.4 L714.0,850.4 L716.0,849.4 L718.0,848.4 L720.0,847.5 L722.0,846.7 L724.0,845.8 L726.0,845.1 L728.0,844.4 L730.0,843.8 L732.0,843.3 L734.0,842.8 L736.0,842.5 L738.0,842.2 L740.0,842.1 L742.0,842.0 L744.0,842.0 L746.0,842.2 L748.0,842.4 L750.0,842.7 L752.0,843.2 L754.0,843.7 L756.0,844.3 L758.0,844.9 L760.0,845.7 L762.0,846.5 L764.0,847.3 L766.0,848.3 L768.0,849.2 L770.0,850.2 L772.0,851.2 L774.0,852.1 L776.0,853.1 L778.0,854.1 L780.0,855.1 L782.0,856.0 L784.0,856.9 L786.0,857.8 L788.0,858.5 L790.0,859.3 L792.0,859.9 L794.0,860.5 L796.0,861.0 L798.0,861.4 L800.0,861.7 L802.0,861.9 L804.0,862.0 L806.0,862.0 L808.0,861.9 L810.0,861.7 L812.0,861.4 L814.0,861.1 L816.0,860.6 L818.0,860.0 L820.0,859.4 L822.0,858.7 L824.0,857.9 L826.0,857.1 L828.0,856.2 L830.0,855.3 L832.0,854.3 L834.0,853.3 L836.0,852.3 L838.0,851.4 L840.0,850.4 L842.0,849.4 L844.0,848.4 L846.0,847.5 L848.0,846.7 L850.0,845.8 L852.0,845.1 L854.0,844.4 L856.0,843.8 L858.0,843.3 L860.0,842.8 L862.0,842.5 L864.0,842.2 L866.0,842.1 L868.0,842.0 L870.0,842.0 L872.0,842.2 L874.0,842.4 L876.0,842.7 L878.0,843.2 L880.0,843.7 L882.0,844.3 L884.0,844.9 L886.0,845.7 L888.0,846.5 L890.0,847.3 L892.0,848.3 L894.0,849.2 L896.0,850.2 L898.0,851.2 L900.0,852.1 L902.0,853.1 L904.0,854.1 L906.0,855.1 L908.0,856.0 L910.0,856.9 L912.0,857.8 L914.0,858.5 L916.0,859.3 L918.0,859.9 L920.0,860.5 L922.0,861.0 L924.0,861.4 L926.0,861.7 L928.0,861.9 L930.0,862.0 L932.0,862.0 L934.0,861.9 L934.0,888.9 L932.0,889.0 L930.0,889.0 L928.0,888.9 L926.0,888.7 L924.0,888.4 L922.0,888.0 L920.0,887.5 L918.0,886.9 L916.0,886.3 L914.0,885.5 L912.0,884.8 L910.0,883.9 L908.0,883.0 L906.0,882.1 L904.0,881.1 L902.0,880.1 L900.0,879.1 L898.0,878.2 L896.0,877.2 L894.0,876.2 L892.0,875.3 L890.0,874.3 L888.0,873.5 L886.0,872.7 L884.0,871.9 L882.0,871.3 L880.0,870.7 L878.0,870.2 L876.0,869.7 L874.0,869.4 L872.0,869.2 L870.0,869.0 L868.0,869.0 L866.0,869.1 L864.0,869.2 L862.0,869.5 L860.0,869.8 L858.0,870.3 L856.0,870.8 L854.0,871.4 L852.0,872.1 L850.0,872.8 L848.0,873.7 L846.0,874.5 L844.0,875.4 L842.0,876.4 L840.0,877.4 L838.0,878.4 L836.0,879.3 L834.0,880.3 L832.0,881.3 L830.0,882.3 L828.0,883.2 L826.0,884.1 L824.0,884.9 L822.0,885.7 L820.0,886.4 L818.0,887.0 L816.0,887.6 L814.0,888.1 L812.0,888.4 L810.0,888.7 L808.0,888.9 L806.0,889.0 L804.0,889.0 L802.0,888.9 L800.0,888.7 L798.0,888.4 L796.0,888.0 L794.0,887.5 L792.0,886.9 L790.0,886.3 L788.0,885.5 L786.0,884.8 L784.0,883.9 L782.0,883.0 L780.0,882.1 L778.0,881.1 L776.0,880.1 L774.0,879.1 L772.0,878.2 L770.0,877.2 L768.0,876.2 L766.0,875.3 L764.0,874.3 L762.0,873.5 L760.0,872.7 L758.0,871.9 L756.0,871.3 L754.0,870.7 L752.0,870.2 L750.0,869.7 L748.0,869.4 L746.0,869.2 L744.0,869.0 L742.0,869.0 L740.0,869.1 L738.0,869.2 L736.0,869.5 L734.0,869.8 L732.0,870.3 L730.0,870.8 L728.0,871.4 L726.0,872.1 L724.0,872.8 L722.0,873.7 L720.0,874.5 L718.0,875.4 L716.0,876.4 L714.0,877.4 L712.0,878.4 L710.0,879.3 L708.0,880.3 L706.0,881.3 L704.0,882.3 L702.0,883.2 L700.0,884.1 L698.0,884.9 L696.0,885.7 L694.0,886.4 L692.0,887.0 L690.0,887.6 L688.0,888.1 L686.0,888.4 L684.0,888.7 L682.0,888.9 L680.0,889.0 L678.0,889.0 L676.0,888.9 L674.0,888.7 L672.0,888.4 L670.0,888.0 L668.0,887.5 L666.0,886.9 L664.0,886.3 L662.0,885.5 L660.0,884.8 L658.0,883.9 L656.0,883.0 L654.0,882.1 L652.0,881.1 L650.0,880.1 L648.0,879.1 L646.0,878.2 L644.0,877.2 L642.0,876.2 L640.0,875.3 L638.0,874.3 L636.0,873.5 L634.0,872.7 L632.0,871.9 L630.0,871.3 L628.0,870.7 L626.0,870.2 L624.0,869.7 L622.0,869.4 L620.0,869.2 L618.0,869.0 L616.0,869.0 L614.0,869.1 L612.0,869.2 L610.0,869.5 L608.0,869.8 L606.0,870.3 L604.0,870.8 L602.0,871.4 L600.0,872.1 L598.0,872.8 L596.0,873.7 L594.0,874.5 L592.0,875.4 L590.0,876.4 L588.0,877.4 L586.0,878.4 L584.0,879.3 L582.0,880.3 L580.0,881.3 L578.0,882.3 L576.0,883.2 L574.0,884.1 L572.0,884.9 L570.0,885.7 L568.0,886.4 L566.0,887.0 L564.0,887.6 L562.0,888.1 L560.0,888.4 L558.0,888.7 L556.0,888.9 L554.0,889.0 L552.0,889.0 L550.0,888.9 L548.0,888.7 L546.0,888.4 L544.0,888.0 L542.0,887.5 L540.0,886.9 L538.0,886.3 L536.0,885.5 L534.0,884.8 L532.0,883.9 L530.0,883.0 L528.0,882.1 L526.0,881.1 L524.0,880.1 L522.0,879.1 L520.0,878.2 L518.0,877.2 L516.0,876.2 L514.0,875.3 L512.0,874.3 L510.0,873.5 L508.0,872.7 L506.0,871.9 L504.0,871.3 L502.0,870.7 L500.0,870.2 L498.0,869.7 L496.0,869.4 L494.0,869.2 L492.0,869.0 L490.0,869.0Z"/>
<path fill="url(#wg)" d="M490.0,898.0 L492.0,898.0 L494.0,898.2 L496.0,898.4 L498.0,898.7 L500.0,899.2 L502.0,899.7 L504.0,900.3 L506.0,900.9 L508.0,901.7 L510.0,902.5 L512.0,903.3 L514.0,904.3 L516.0,905.2 L518.0,906.2 L520.0,907.2 L522.0,908.1 L524.0,909.1 L526.0,910.1 L528.0,911.1 L530.0,912.0 L532.0,912.9 L534.0,913.8 L536.0,914.5 L538.0,915.3 L540.0,915.9 L542.0,916.5 L544.0,917.0 L546.0,917.4 L548.0,917.7 L550.0,917.9 L552.0,918.0 L554.0,918.0 L556.0,917.9 L558.0,917.7 L560.0,917.4 L562.0,917.1 L564.0,916.6 L566.0,916.0 L568.0,915.4 L570.0,914.7 L572.0,913.9 L574.0,913.1 L576.0,912.2 L578.0,911.3 L580.0,910.3 L582.0,909.3 L584.0,908.3 L586.0,907.4 L588.0,906.4 L590.0,905.4 L592.0,904.4 L594.0,903.5 L596.0,902.7 L598.0,901.8 L600.0,901.1 L602.0,900.4 L604.0,899.8 L606.0,899.3 L608.0,898.8 L610.0,898.5 L612.0,898.2 L614.0,898.1 L616.0,898.0 L618.0,898.0 L620.0,898.2 L622.0,898.4 L624.0,898.7 L626.0,899.2 L628.0,899.7 L630.0,900.3 L632.0,900.9 L634.0,901.7 L636.0,902.5 L638.0,903.3 L640.0,904.3 L642.0,905.2 L644.0,906.2 L646.0,907.2 L648.0,908.1 L650.0,909.1 L652.0,910.1 L654.0,911.1 L656.0,912.0 L658.0,912.9 L660.0,913.8 L662.0,914.5 L664.0,915.3 L666.0,915.9 L668.0,916.5 L670.0,917.0 L672.0,917.4 L674.0,917.7 L676.0,917.9 L678.0,918.0 L680.0,918.0 L682.0,917.9 L684.0,917.7 L686.0,917.4 L688.0,917.1 L690.0,916.6 L692.0,916.0 L694.0,915.4 L696.0,914.7 L698.0,913.9 L700.0,913.1 L702.0,912.2 L704.0,911.3 L706.0,910.3 L708.0,909.3 L710.0,908.3 L712.0,907.4 L714.0,906.4 L716.0,905.4 L718.0,904.4 L720.0,903.5 L722.0,902.7 L724.0,901.8 L726.0,901.1 L728.0,900.4 L730.0,899.8 L732.0,899.3 L734.0,898.8 L736.0,898.5 L738.0,898.2 L740.0,898.1 L742.0,898.0 L744.0,898.0 L746.0,898.2 L748.0,898.4 L750.0,898.7 L752.0,899.2 L754.0,899.7 L756.0,900.3 L758.0,900.9 L760.0,901.7 L762.0,902.5 L764.0,903.3 L766.0,904.3 L768.0,905.2 L770.0,906.2 L772.0,907.2 L774.0,908.1 L776.0,909.1 L778.0,910.1 L780.0,911.1 L782.0,912.0 L784.0,912.9 L786.0,913.8 L788.0,914.5 L790.0,915.3 L792.0,915.9 L794.0,916.5 L796.0,917.0 L798.0,917.4 L800.0,917.7 L802.0,917.9 L804.0,918.0 L806.0,918.0 L808.0,917.9 L810.0,917.7 L812.0,917.4 L814.0,917.1 L816.0,916.6 L818.0,916.0 L820.0,915.4 L822.0,914.7 L824.0,913.9 L826.0,913.1 L828.0,912.2 L830.0,911.3 L832.0,910.3 L834.0,909.3 L836.0,908.3 L838.0,907.4 L840.0,906.4 L842.0,905.4 L844.0,904.4 L846.0,903.5 L848.0,902.7 L850.0,901.8 L852.0,901.1 L854.0,900.4 L856.0,899.8 L858.0,899.3 L860.0,898.8 L862.0,898.5 L864.0,898.2 L866.0,898.1 L868.0,898.0 L870.0,898.0 L872.0,898.2 L874.0,898.4 L876.0,898.7 L878.0,899.2 L880.0,899.7 L882.0,900.3 L884.0,900.9 L886.0,901.7 L888.0,902.5 L890.0,903.3 L892.0,904.3 L894.0,905.2 L896.0,906.2 L898.0,907.2 L900.0,908.1 L902.0,909.1 L904.0,910.1 L906.0,911.1 L908.0,912.0 L910.0,912.9 L912.0,913.8 L914.0,914.5 L916.0,915.3 L918.0,915.9 L920.0,916.5 L922.0,917.0 L924.0,917.4 L926.0,917.7 L928.0,917.9 L930.0,918.0 L932.0,918.0 L934.0,917.9 L934.0,944.9 L932.0,945.0 L930.0,945.0 L928.0,944.9 L926.0,944.7 L924.0,944.4 L922.0,944.0 L920.0,943.5 L918.0,942.9 L916.0,942.3 L914.0,941.5 L912.0,940.8 L910.0,939.9 L908.0,939.0 L906.0,938.1 L904.0,937.1 L902.0,936.1 L900.0,935.1 L898.0,934.2 L896.0,933.2 L894.0,932.2 L892.0,931.3 L890.0,930.3 L888.0,929.5 L886.0,928.7 L884.0,927.9 L882.0,927.3 L880.0,926.7 L878.0,926.2 L876.0,925.7 L874.0,925.4 L872.0,925.2 L870.0,925.0 L868.0,925.0 L866.0,925.1 L864.0,925.2 L862.0,925.5 L860.0,925.8 L858.0,926.3 L856.0,926.8 L854.0,927.4 L852.0,928.1 L850.0,928.8 L848.0,929.7 L846.0,930.5 L844.0,931.4 L842.0,932.4 L840.0,933.4 L838.0,934.4 L836.0,935.3 L834.0,936.3 L832.0,937.3 L830.0,938.3 L828.0,939.2 L826.0,940.1 L824.0,940.9 L822.0,941.7 L820.0,942.4 L818.0,943.0 L816.0,943.6 L814.0,944.1 L812.0,944.4 L810.0,944.7 L808.0,944.9 L806.0,945.0 L804.0,945.0 L802.0,944.9 L800.0,944.7 L798.0,944.4 L796.0,944.0 L794.0,943.5 L792.0,942.9 L790.0,942.3 L788.0,941.5 L786.0,940.8 L784.0,939.9 L782.0,939.0 L780.0,938.1 L778.0,937.1 L776.0,936.1 L774.0,935.1 L772.0,934.2 L770.0,933.2 L768.0,932.2 L766.0,931.3 L764.0,930.3 L762.0,929.5 L760.0,928.7 L758.0,927.9 L756.0,927.3 L754.0,926.7 L752.0,926.2 L750.0,925.7 L748.0,925.4 L746.0,925.2 L744.0,925.0 L742.0,925.0 L740.0,925.1 L738.0,925.2 L736.0,925.5 L734.0,925.8 L732.0,926.3 L730.0,926.8 L728.0,927.4 L726.0,928.1 L724.0,928.8 L722.0,929.7 L720.0,930.5 L718.0,931.4 L716.0,932.4 L714.0,933.4 L712.0,934.4 L710.0,935.3 L708.0,936.3 L706.0,937.3 L704.0,938.3 L702.0,939.2 L700.0,940.1 L698.0,940.9 L696.0,941.7 L694.0,942.4 L692.0,943.0 L690.0,943.6 L688.0,944.1 L686.0,944.4 L684.0,944.7 L682.0,944.9 L680.0,945.0 L678.0,945.0 L676.0,944.9 L674.0,944.7 L672.0,944.4 L670.0,944.0 L668.0,943.5 L666.0,942.9 L664.0,942.3 L662.0,941.5 L660.0,940.8 L658.0,939.9 L656.0,939.0 L654.0,938.1 L652.0,937.1 L650.0,936.1 L648.0,935.1 L646.0,934.2 L644.0,933.2 L642.0,932.2 L640.0,931.3 L638.0,930.3 L636.0,929.5 L634.0,928.7 L632.0,927.9 L630.0,927.3 L628.0,926.7 L626.0,926.2 L624.0,925.7 L622.0,925.4 L620.0,925.2 L618.0,925.0 L616.0,925.0 L614.0,925.1 L612.0,925.2 L610.0,925.5 L608.0,925.8 L606.0,926.3 L604.0,926.8 L602.0,927.4 L600.0,928.1 L598.0,928.8 L596.0,929.7 L594.0,930.5 L592.0,931.4 L590.0,932.4 L588.0,933.4 L586.0,934.4 L584.0,935.3 L582.0,936.3 L580.0,937.3 L578.0,938.3 L576.0,939.2 L574.0,940.1 L572.0,940.9 L570.0,941.7 L568.0,942.4 L566.0,943.0 L564.0,943.6 L562.0,944.1 L560.0,944.4 L558.0,944.7 L556.0,944.9 L554.0,945.0 L552.0,945.0 L550.0,944.9 L548.0,944.7 L546.0,944.4 L544.0,944.0 L542.0,943.5 L540.0,942.9 L538.0,942.3 L536.0,941.5 L534.0,940.8 L532.0,939.9 L530.0,939.0 L528.0,938.1 L526.0,937.1 L524.0,936.1 L522.0,935.1 L520.0,934.2 L518.0,933.2 L516.0,932.2 L514.0,931.3 L512.0,930.3 L510.0,929.5 L508.0,928.7 L506.0,927.9 L504.0,927.3 L502.0,926.7 L500.0,926.2 L498.0,925.7 L496.0,925.4 L494.0,925.2 L492.0,925.0 L490.0,925.0Z"/>
<path fill="none" stroke="#000" stroke-width="3" d="M414,427.7H459M436.5,427.7V485M465,426.4V485M465,458C466,447 472,442.5 480.5,442.5C490,442.5 495.2,448 495.2,458V485M505.5,462.8H542C542,450 535,442.5 523.8,442.5C511,442.5 505.5,452 505.5,464C505.5,477 512,485.5 523.8,485.5C532,485.5 538.5,481 541,473"/>
<path fill="none" stroke="#000" stroke-width="3" d="M1192,945.5V888.3H1212C1225,888.3 1231,895 1231,902.6C1231,911 1225,917 1212,917H1192M1237.5,914C1238.5,906.5 1244,904.5 1252,904.5C1262,904.5 1268,908 1268,915V939C1268,943 1269.5,944.5 1272,944.5M1268,926C1262,929 1252,929 1245,931C1239,933 1236,936 1236,939.5C1236,944 1241,946 1248,946C1258,946 1268,940 1268,932M1280,904V945.5M1280,919C1281,910 1288,905.5 1297,905.5M1308.5,890V938C1308.5,943.5 1311.5,944.5 1319,944.5M1297,905.5H1320M1327,904V945.5M1327,918C1328,909 1335,904.5 1343,904.5C1352,904.5 1357.5,909 1357.5,917.5V945.5M1367.5,922.5H1403C1403,911 1397,905 1385.5,905C1373,905 1367.5,913.5 1367.5,925.5C1367.5,938 1374,944.5 1385.5,944.5C1394,944.5 1399.5,941 1402,934.5M1413,904V945.5M1413,919C1414,910 1421,905.5 1431,905.5M1463.5,914C1462.5,908 1457,905 1449.5,905C1441,905 1435.5,908.5 1435.5,914C1435.5,920 1441,922 1449.5,924C1458,926 1464.5,928.5 1464.5,935C1464.5,941 1459,944.5 1449.5,944.5C1440,944.5 1434.5,940 1434,933M1476.6,886.5V945.5M1476.6,918C1477.5,909 1484,904.5 1492,904.5C1501,904.5 1507,909 1507,917.5V945.5M1520.4,904V945.5M1534.3,904V962M1534.3,925C1534.3,911.5 1541,905 1552,905C1564,905 1569,913 1569,925C1569,937.5 1564,944.5 1552,944.5C1541,944.5 1534.3,938 1534.3,925"/>
<rect x="1518.9" y="886.8" width="3" height="7.5" fill="#000"/>
</g>
</svg></body></html>
